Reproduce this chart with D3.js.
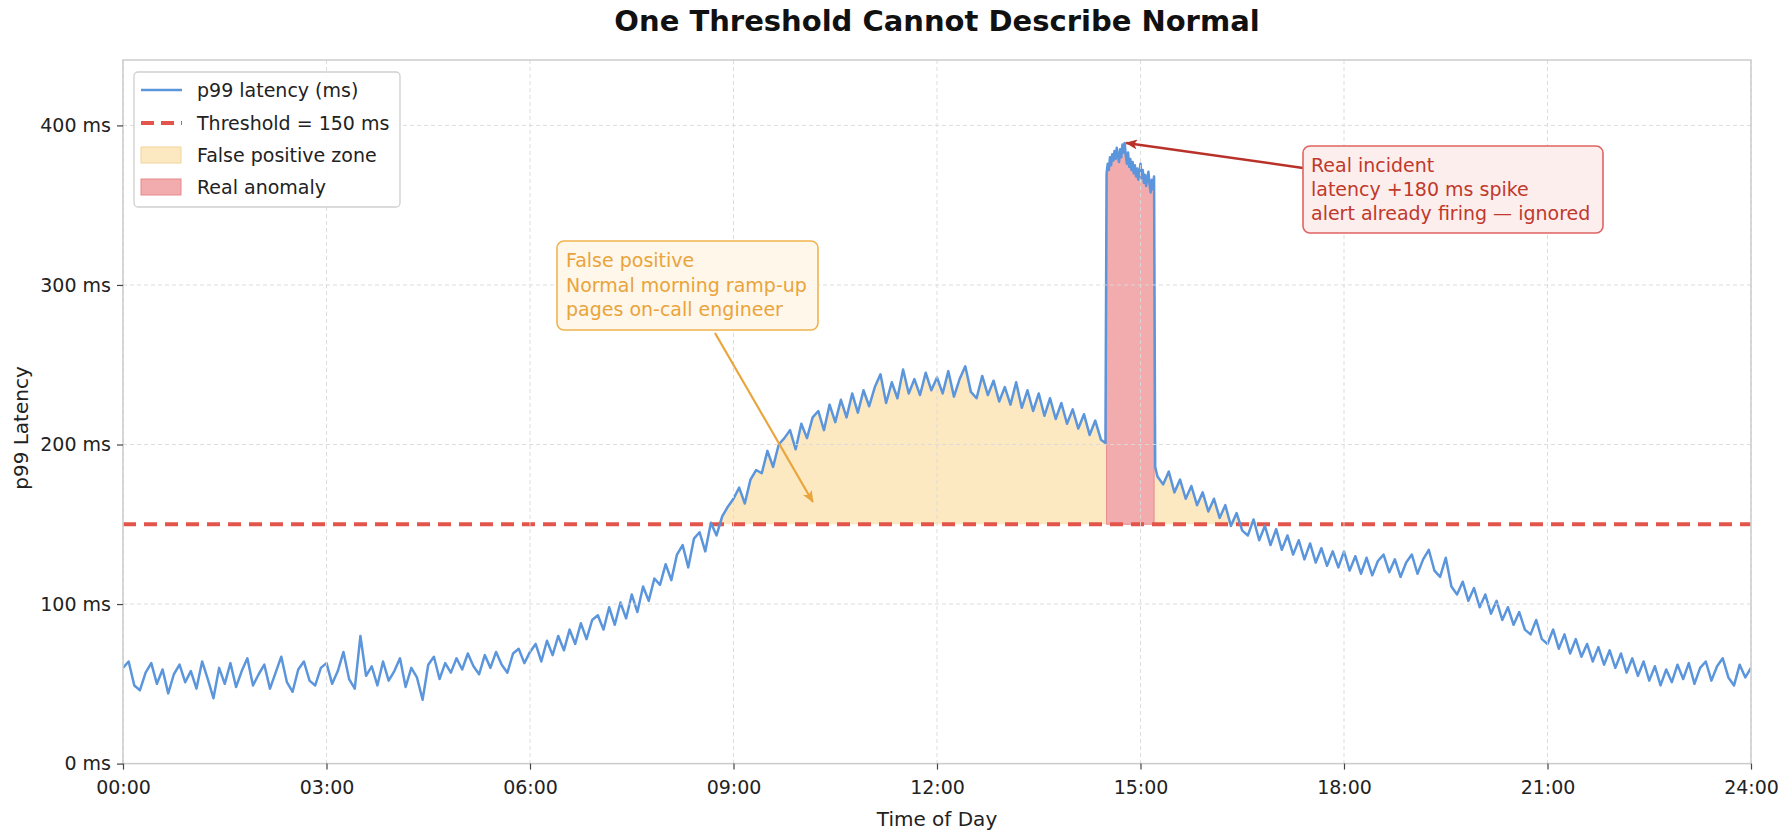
<!DOCTYPE html>
<html><head><meta charset="utf-8">
<script src="https://cdn.jsdelivr.net/npm/d3@7"></script>
<style>
body{margin:0;background:#fff}
text{font-family:"DejaVu Sans",sans-serif}
</style>
</head><body>
<svg id="chart" width="1787" height="838"></svg>
<script>
// ---------- data ----------
const chartTitle = "One Threshold Cannot Describe Normal";
const xLabel = "Time of Day";
const yLabel = "p99 Latency";
const xTickHours = [0, 3, 6, 9, 12, 15, 18, 21, 24];
const xTickLabels = ["00:00", "03:00", "06:00", "09:00", "12:00", "15:00", "18:00", "21:00", "24:00"];
const yTickValues = [0, 100, 200, 300, 400];
const yTickLabels = ["0 ms", "100 ms", "200 ms", "300 ms", "400 ms"];
const thresholdMs = 150;
const sampleMinutes = 5;
// p99 latency (ms), one sample every 5 minutes from 00:00 to 24:00
const latency = [
  60, 64, 49, 46, 57, 63, 50, 59, 44, 56, 62, 51,
  58, 47, 64, 53, 41, 60, 50, 63, 48, 58, 66, 49,
  56, 62, 47, 57, 67, 51, 45, 59, 64, 52, 49, 60,
  63, 50, 58, 70, 53, 47, 80, 55, 61, 49, 64, 52,
  58, 66, 48, 60, 54, 40, 62, 67, 53, 63, 57, 66,
  59, 69, 61, 56, 68, 60, 70, 62, 57, 69, 72, 63,
  70, 75, 64, 77, 68, 80, 71, 84, 75, 88, 78, 90,
  93, 84, 98, 87, 101, 91, 106, 95, 111, 102, 116, 112,
  125, 115, 131, 137, 123, 141, 145, 133, 151, 143, 155, 161,
  166, 173, 163, 178, 184, 182, 196, 186, 200, 204, 209, 197,
  213, 204, 217, 221, 209, 225, 214, 228, 217, 232, 220, 234,
  224, 236, 244, 226, 239, 229, 247, 232, 241, 231, 245, 234,
  242, 232, 246, 230, 241, 249, 233, 229, 243, 231, 240, 227,
  236, 225, 239, 223, 234, 221, 232, 218, 229, 216, 226, 213,
  222, 210, 219, 206, 215, 203, 376, 383, 388, 379, 385, 374,
  372, 365, 361, 180, 175, 183, 170, 178, 166, 174, 162, 170,
  158, 166, 154, 162, 149, 157, 146, 143, 153, 140, 149, 137,
  147, 134, 143, 131, 140, 128, 138, 126, 135, 124, 133, 123,
  133, 121, 130, 119, 129, 118, 127, 131, 120, 128, 117, 126,
  131, 119, 128, 134, 121, 117, 129, 111, 106, 114, 102, 110,
  98, 106, 94, 102, 90, 98, 87, 95, 84, 81, 90, 78,
  75, 84, 72, 81, 69, 78, 67, 75, 64, 73, 62, 71,
  60, 69, 57, 66, 55, 64, 52, 61, 49, 59, 51, 62,
  53, 63, 50, 60, 64, 52, 61, 66, 54, 49, 62, 54,
  60
];
// incident window at 1-minute resolution, 14:29 .. 15:13
const incidentStartMinute = 869;
const incidentLatency = [
  201,
  370, 376, 372, 380, 375, 382, 378, 384, 379, 386,
  381, 377, 385, 380, 388, 383, 389, 381, 376, 383,
  374, 379, 372, 377, 370, 375, 368, 373, 366, 371,
  376, 367, 372, 364, 369, 362, 367, 371, 363, 358,
  366, 360, 368,
  186
];
const anomalyStartMinute = 870;  // 14:30
const anomalyEndMinute = 912;    // 15:12
const legendLabels = ["p99 latency (ms)", "Threshold = 150 ms", "False positive zone", "Real anomaly"];
const fpNoteLines = ["False positive", "Normal morning ramp-up", "pages on-call engineer"];
const fpNoteTarget = [10.17, 164];   // [hour, ms]
const incidentNoteLines = ["Real incident", "latency +180 ms spike", "alert already firing \u2014 ignored"];
const incidentNoteTarget = [14.79, 389];

// ---------- layout ----------
const W = 1787, H = 838;
const M = {left: 123, right: 1751, top: 60, bottom: 763.6};
const C = {
  line: "#5b95dc", thr: "#e3554b", fpFill: "#f5b942", anomFill: "#f2acae", anomEdge: "#e58a8c",
  grid: "#d9d9d9", spine: "#cccccc", text: "#222", orange: "#e9a43c", darkRed: "#c0392b"
};

const incidentEndMinute = incidentStartMinute + incidentLatency.length - 1;
const basePts = latency.map((v, i) => ({m: i * sampleMinutes, v}))
  .filter(d => d.m < incidentStartMinute || d.m > incidentEndMinute);
const incPts = incidentLatency.map((v, i) => ({m: incidentStartMinute + i, v}));
const pts = basePts.concat(incPts).sort((a, b) => a.m - b.m).map(d => ({h: d.m / 60, m: d.m, v: d.v}));

const x = d3.scaleLinear().domain([0, 24]).range([M.left, M.right]);
const y = d3.scaleLinear().domain([0, 441]).range([M.bottom, M.top]);

const svg = d3.select("#chart");
svg.append("rect").attr("width", W).attr("height", H).attr("fill", "#fff");

const defs = svg.append("defs");
defs.append("clipPath").attr("id", "plotclip").append("rect")
  .attr("x", M.left).attr("y", M.top).attr("width", M.right - M.left).attr("height", M.bottom - M.top);
function marker(id, color) {
  defs.append("marker").attr("id", id).attr("viewBox", "0 0 12 10")
    .attr("refX", 11).attr("refY", 5).attr("markerWidth", 12).attr("markerHeight", 10)
    .attr("markerUnits", "userSpaceOnUse").attr("orient", "auto")
    .append("path").attr("d", "M0,0 L12,5 L0,10 L3,5 Z").attr("fill", color);
}
marker("arrOrange", C.orange);
marker("arrRed", "#b8322a");

const plot = svg.append("g").attr("clip-path", "url(#plotclip)");

// false positive zone (everything above threshold)
plot.append("path")
  .attr("fill", C.fpFill).attr("fill-opacity", 0.33)
  .attr("d", d3.area().x(d => x(d.h)).y0(y(thresholdMs)).y1(d => y(Math.max(d.v, thresholdMs)))(pts));

// real anomaly
const spikePts = pts.filter(d => d.m >= anomalyStartMinute && d.m <= anomalyEndMinute);
plot.append("path")
  .attr("fill", C.anomFill).attr("stroke", C.anomEdge).attr("stroke-width", 1)
  .attr("d", d3.area().x(d => x(d.h)).y0(y(thresholdMs)).y1(d => y(d.v))(spikePts));

// grid
const grid = svg.append("g");
grid.selectAll(".gx").data(xTickHours).join("line")
  .attr("x1", d => x(d)).attr("x2", d => x(d)).attr("y1", M.top).attr("y2", M.bottom)
  .attr("stroke", C.grid).attr("stroke-width", 1).attr("stroke-dasharray", "4,3").attr("stroke-opacity", 0.9);
grid.selectAll(".gy").data(yTickValues).join("line")
  .attr("x1", M.left).attr("x2", M.right).attr("y1", d => y(d)).attr("y2", d => y(d))
  .attr("stroke", C.grid).attr("stroke-width", 1).attr("stroke-dasharray", "4,3").attr("stroke-opacity", 0.9);

// threshold
plot.append("line")
  .attr("x1", M.left).attr("x2", M.right).attr("y1", y(thresholdMs)).attr("y2", y(thresholdMs))
  .attr("stroke", C.thr).attr("stroke-width", 4).attr("stroke-dasharray", "13,8");

// latency line
plot.append("path")
  .datum(pts)
  .attr("fill", "none").attr("stroke", C.line).attr("stroke-width", 2.5)
  .attr("stroke-linejoin", "round")
  .attr("d", d3.line().x(d => x(d.h)).y(d => y(d.v)));

// spines
svg.append("rect")
  .attr("x", M.left).attr("y", M.top).attr("width", M.right - M.left).attr("height", M.bottom - M.top)
  .attr("fill", "none").attr("stroke", C.spine).attr("stroke-width", 1.5);

// axes
const xAxis = svg.append("g").attr("transform", `translate(0,${M.bottom})`)
  .call(d3.axisBottom(x).tickValues(xTickHours).tickFormat((d, i) => xTickLabels[i]).tickSize(6).tickPadding(11));
const yAxis = svg.append("g").attr("transform", `translate(${M.left},0)`)
  .call(d3.axisLeft(y).tickValues(yTickValues).tickFormat((d, i) => yTickLabels[i]).tickSize(6).tickPadding(6));
[xAxis, yAxis].forEach(g => {
  g.select(".domain").remove();
  g.selectAll(".tick line").attr("stroke", "#444").attr("stroke-width", 1.2);
  g.selectAll(".tick text").attr("fill", C.text).style("font-size", "19px").style("font-family", "DejaVu Sans");
});

// title and axis labels
svg.append("text").attr("x", (M.left + M.right) / 2).attr("y", 31)
  .attr("text-anchor", "middle").style("font-size", "29px").style("font-weight", "bold").attr("fill", "#111")
  .text(chartTitle);
svg.append("text").attr("x", (M.left + M.right) / 2).attr("y", 826)
  .attr("text-anchor", "middle").style("font-size", "20px").attr("fill", C.text).text(xLabel);
svg.append("text").attr("transform", `translate(28,428) rotate(-90)`)
  .attr("text-anchor", "middle").style("font-size", "20px").attr("fill", C.text).text(yLabel);

// legend
const lg = svg.append("g");
lg.append("rect").attr("x", 134).attr("y", 72).attr("width", 266).attr("height", 135).attr("rx", 4)
  .attr("fill", "#fff").attr("fill-opacity", 0.85).attr("stroke", "#cfcfcf").attr("stroke-width", 1.3);
const rowsY = [90, 123, 155, 187];
lg.append("line").attr("x1", 141).attr("x2", 182).attr("y1", rowsY[0]).attr("y2", rowsY[0])
  .attr("stroke", C.line).attr("stroke-width", 2.5);
lg.append("line").attr("x1", 141).attr("x2", 182).attr("y1", rowsY[1]).attr("y2", rowsY[1])
  .attr("stroke", C.thr).attr("stroke-width", 4).attr("stroke-dasharray", "13,7");
lg.append("rect").attr("x", 141).attr("y", rowsY[2] - 8).attr("width", 40).attr("height", 16)
  .attr("fill", C.fpFill).attr("fill-opacity", 0.33).attr("stroke", "#f3d49a").attr("stroke-width", 1);
lg.append("rect").attr("x", 141).attr("y", rowsY[3] - 8).attr("width", 40).attr("height", 16)
  .attr("fill", C.anomFill).attr("stroke", C.anomEdge).attr("stroke-width", 1);
lg.selectAll(".lt").data(legendLabels).join("text")
  .attr("x", 197).attr("y", (d, i) => rowsY[i]).attr("dy", "0.35em")
  .style("font-size", "19px").attr("fill", C.text).text(d => d);

// annotation: false positive
svg.append("line")
  .attr("x1", 715).attr("y1", 333).attr("x2", x(fpNoteTarget[0])).attr("y2", y(fpNoteTarget[1]))
  .attr("stroke", C.orange).attr("stroke-width", 2.2).attr("marker-end", "url(#arrOrange)");
svg.append("rect").attr("x", 557).attr("y", 241).attr("width", 261).attr("height", 89).attr("rx", 7)
  .attr("fill", "#fff7ea").attr("stroke", "#efb44e").attr("stroke-width", 1.6);
svg.selectAll(".fpt").data(fpNoteLines).join("text")
  .attr("x", 566).attr("y", (d, i) => 267 + i * 24.5)
  .style("font-size", "19px").attr("fill", C.orange).text(d => d);

// annotation: real incident
svg.append("line")
  .attr("x1", 1303).attr("y1", 168).attr("x2", x(incidentNoteTarget[0])).attr("y2", y(incidentNoteTarget[1]))
  .attr("stroke", "#b8322a").attr("stroke-width", 2.5).attr("marker-end", "url(#arrRed)");
svg.append("rect").attr("x", 1303).attr("y", 146).attr("width", 300).attr("height", 87).attr("rx", 7)
  .attr("fill", "#fdeeee").attr("stroke", "#e06363").attr("stroke-width", 1.6);
svg.selectAll(".irt").data(incidentNoteLines).join("text")
  .attr("x", 1311).attr("y", (d, i) => 172 + i * 24.2)
  .style("font-size", "19px").attr("fill", C.darkRed).text(d => d);
</script>
</body></html>
